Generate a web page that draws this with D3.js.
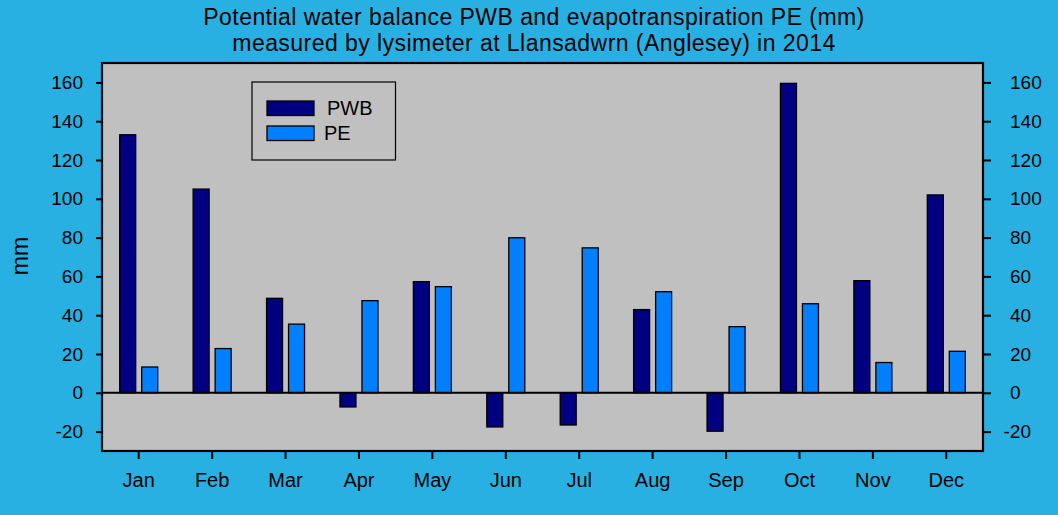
<!DOCTYPE html>
<html>
<head>
<meta charset="utf-8">
<script src="https://cdn.jsdelivr.net/npm/d3@7"></script>
<style>
  html, body { margin: 0; padding: 0; background: #29b0e3; }
  svg { display: block; font-family: "Liberation Sans", Arial, sans-serif; }
</style>
</head>
<body>
<div id="chart"></div>
<script>
// data
const months = ['Jan', 'Feb', 'Mar', 'Apr', 'May', 'Jun', 'Jul', 'Aug', 'Sep', 'Oct', 'Nov', 'Dec'];
const seriesNames = ['PWB', 'PE'];
const pwb = [133, 105, 48.7, -7.3, 57.3, -17.6, -16.6, 42.9, -19.8, 159.5, 57.8, 102];
const pe = [13.3, 22.8, 35.4, 47.5, 54.7, 79.9, 74.7, 52.1, 34.1, 45.9, 15.6, 21.4];
const yTicks = [-20, 0, 20, 40, 60, 80, 100, 120, 140, 160];
const titleLines = [
  'Potential water balance PWB and evapotranspiration PE (mm)',
  'measured by lysimeter at Llansadwrn (Anglesey) in 2014'
];

const width = 1058, height = 515;
const margin = { top: 63, right: 75, bottom: 64, left: 102 };
const colors = { PWB: '#000080', PE: '#0080ff' };

const svg = d3.select('#chart')
  .append('svg')
  .attr('width', width)
  .attr('height', height);

svg.append('rect')
  .attr('width', width)
  .attr('height', height)
  .attr('fill', '#29b0e3');

const x0 = d3.scaleBand()
  .domain(months)
  .range([margin.left, width - margin.right]);

const x1 = d3.scaleBand()
  .domain(seriesNames)
  .range([-19, 19])
  .paddingInner(0.273);

const y = d3.scaleLinear()
  .domain([-30, 170])
  .range([height - margin.bottom, margin.top]);

// plot background
svg.append('rect')
  .attr('x', margin.left)
  .attr('y', margin.top)
  .attr('width', width - margin.left - margin.right)
  .attr('height', height - margin.top - margin.bottom)
  .attr('fill', '#c0c0c0');

// bars
const rows = months.map((m, i) => ({ month: m, PWB: pwb[i], PE: pe[i] }));

const groups = svg.append('g')
  .selectAll('g')
  .data(rows)
  .join('g')
  .attr('transform', d => `translate(${x0(d.month) + x0.bandwidth() / 2},0)`);

groups.selectAll('rect')
  .data(d => seriesNames.map(k => ({ key: k, value: d[k] })))
  .join('rect')
  .attr('x', d => x1(d.key))
  .attr('width', x1.bandwidth())
  .attr('y', d => y(Math.max(0, d.value)))
  .attr('height', d => Math.abs(y(d.value) - y(0)))
  .attr('fill', d => colors[d.key])
  .attr('stroke', '#000')
  .attr('stroke-width', 1.3);

// zero line
svg.append('line')
  .attr('x1', margin.left)
  .attr('x2', width - margin.right)
  .attr('y1', y(0))
  .attr('y2', y(0))
  .attr('stroke', '#000')
  .attr('stroke-width', 2);

// plot frame
svg.append('rect')
  .attr('x', margin.left)
  .attr('y', margin.top)
  .attr('width', width - margin.left - margin.right)
  .attr('height', height - margin.top - margin.bottom)
  .attr('fill', 'none')
  .attr('stroke', '#000')
  .attr('stroke-width', 2.2);

// axes (plain hyphen for negatives, as in the original)
const fmt = d => String(d);

const leftAxis = svg.append('g')
  .attr('transform', `translate(${margin.left},0)`)
  .call(d3.axisLeft(y).tickValues(yTicks).tickFormat(fmt).tickSize(6).tickPadding(13));

const rightAxis = svg.append('g')
  .attr('transform', `translate(${width - margin.right},0)`)
  .call(d3.axisRight(y).tickValues(yTicks).tickFormat(fmt).tickSize(8).tickPadding(19));

const bottomAxis = svg.append('g')
  .attr('transform', `translate(0,${height - margin.bottom})`)
  .call(d3.axisBottom(x0).tickSize(8).tickPadding(14));

[leftAxis, rightAxis, bottomAxis].forEach(ax => {
  ax.select('.domain').remove();
  ax.selectAll('.tick line').attr('stroke', '#000').attr('stroke-width', 2);
  ax.selectAll('.tick text')
    .attr('fill', '#000')
    .style('font-size', '19px')
    .style('font-family', '"Liberation Sans", Arial, sans-serif');
});
bottomAxis.selectAll('.tick text').style('font-size', '20px');

// minus sign hangs left of the digits on the right axis
rightAxis.selectAll('.tick text')
  .attr('dx', d => d < 0 ? -6.5 : 0);

// y label
svg.append('text')
  .attr('transform', `translate(27.5,256) rotate(-90)`)
  .attr('text-anchor', 'middle')
  .style('font-size', '23px')
  .text('mm');

// title
svg.append('g')
  .selectAll('text')
  .data(titleLines)
  .join('text')
  .attr('x', 534)
  .attr('y', (d, i) => 25 + i * 26)
  .attr('text-anchor', 'middle')
  .style('font-size', '23px')
  .style('letter-spacing', '0.45px')
  .text(d => d);

// legend
const legend = svg.append('g');
legend.append('rect')
  .attr('x', 252)
  .attr('y', 82)
  .attr('width', 143.5)
  .attr('height', 78)
  .attr('fill', 'none')
  .attr('stroke', '#000')
  .attr('stroke-width', 1.2);

const legendItems = legend.selectAll('g')
  .data(seriesNames)
  .join('g')
  .attr('transform', (d, i) => `translate(267,${101 + i * 25})`);

legendItems.append('rect')
  .attr('width', 47)
  .attr('height', 14.5)
  .attr('fill', d => colors[d])
  .attr('stroke', '#000')
  .attr('stroke-width', 1.3);

legendItems.append('text')
  .attr('x', (d, i) => i === 0 ? 60 : 57)
  .attr('y', 14)
  .style('font-size', '20px')
  .text(d => d);
</script>
</body>
</html>
